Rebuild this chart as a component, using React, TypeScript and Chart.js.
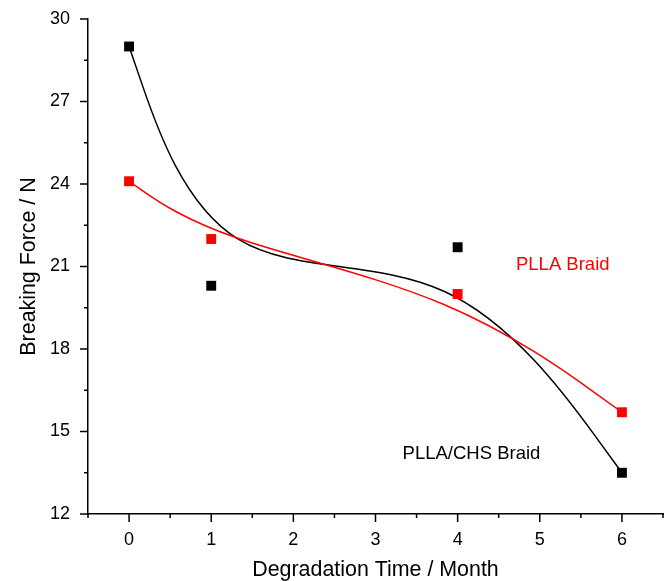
import React, { useEffect, useRef } from 'react';
import { Chart, registerables } from 'chart.js';

Chart.register(...registerables);

// ---- data ----
const months = [0, 1, 4, 6];
const pllaChsForce = [29.0, 20.3, 21.7, 13.5];
const pllaForce = [24.1, 22.0, 20.0, 15.7];
const seriesNames = ['PLLA/CHS Braid', 'PLLA Braid'];
const xTickValues = [0, 1, 2, 3, 4, 5, 6];
const yTickValues = [12, 15, 18, 21, 24, 27, 30];

// ---- styles / layout ----
const FONT = "'Liberation Sans', Arial, Helvetica, sans-serif";
const seriesColors = ['#000000', '#ff0000'];
const labelAnchors = [
  { x: 3.33, y: 14.19 },
  { x: 4.71, y: 21.07 },
];

// Origin-style B-spline line: uniform cubic B-spline with end points repeated,
// drawn as Bezier segments through the chart's own scales.
const bsplinePlugin = {
  id: 'bspline',
  beforeDatasetsDraw(chart: any) {
    const { ctx, chartArea, scales } = chart;
    const xs = scales.x;
    const ys = scales.y;
    ctx.save();
    ctx.beginPath();
    ctx.rect(chartArea.left, chartArea.top, chartArea.width, chartArea.height);
    ctx.clip();
    chart.data.datasets.forEach((ds: any) => {
      const raw = ds.data.map((p: any) => [xs.getPixelForValue(p.x), ys.getPixelForValue(p.y)]);
      const n = raw.length;
      const cp = [raw[0], raw[0], ...raw, raw[n - 1], raw[n - 1]];
      ctx.beginPath();
      for (let i = 0; i + 3 < cp.length; i++) {
        const [a, b, c, d] = [cp[i], cp[i + 1], cp[i + 2], cp[i + 3]];
        const s0 = [(a[0] + 4 * b[0] + c[0]) / 6, (a[1] + 4 * b[1] + c[1]) / 6];
        const s1 = [(2 * b[0] + c[0]) / 3, (2 * b[1] + c[1]) / 3];
        const s2 = [(b[0] + 2 * c[0]) / 3, (b[1] + 2 * c[1]) / 3];
        const s3 = [(b[0] + 4 * c[0] + d[0]) / 6, (b[1] + 4 * c[1] + d[1]) / 6];
        if (i === 0) ctx.moveTo(s0[0], s0[1]);
        ctx.bezierCurveTo(s1[0], s1[1], s2[0], s2[1], s3[0], s3[1]);
      }
      ctx.strokeStyle = ds.backgroundColor;
      ctx.lineWidth = 1.5;
      ctx.stroke();
    });
    ctx.restore();
  },
};

const ticksPlugin = {
  id: 'axisTicks',
  afterDraw(chart: any) {
    const { ctx, chartArea, scales } = chart;
    const xs = scales.x;
    const ys = scales.y;
    ctx.save();
    ctx.strokeStyle = '#000';
    ctx.lineWidth = 1.5;
    ctx.beginPath();
    for (let v = xs.min; v <= xs.max + 1e-9; v += 0.5) {
      const px = xs.getPixelForValue(v);
      const major = Math.abs(v - Math.round(v)) < 1e-6;
      ctx.moveTo(px, chartArea.bottom);
      ctx.lineTo(px, chartArea.bottom + (major ? 8 : 4));
    }
    for (let v = ys.min; v <= ys.max + 1e-9; v += 1.5) {
      const py = ys.getPixelForValue(v);
      const major = Math.abs(v / 3 - Math.round(v / 3)) < 1e-6;
      ctx.moveTo(chartArea.left, py);
      ctx.lineTo(chartArea.left - (major ? 8 : 4), py);
    }
    ctx.stroke();
    ctx.restore();
  },
};

const labelPlugin = {
  id: 'seriesLabels',
  afterDatasetsDraw(chart: any) {
    const { ctx, scales } = chart;
    ctx.save();
    ctx.font = `18.5px ${FONT}`;
    ctx.textAlign = 'left';
    ctx.textBaseline = 'middle';
    seriesNames.forEach((name, i) => {
      ctx.fillStyle = seriesColors[i];
      ctx.fillText(name, scales.x.getPixelForValue(labelAnchors[i].x), scales.y.getPixelForValue(labelAnchors[i].y));
    });
    ctx.restore();
  },
};

export default function App() {
  const canvasRef = useRef<HTMLCanvasElement | null>(null);

  useEffect(() => {
    if (!canvasRef.current) return;
    const seriesValues = [pllaChsForce, pllaForce];
    const chart = new Chart(canvasRef.current, {
      type: 'scatter',
      data: {
        datasets: seriesValues.map((vals, i) => ({
          label: seriesNames[i],
          data: months.map((m, j) => ({ x: m, y: vals[j] })),
          backgroundColor: seriesColors[i],
          borderColor: seriesColors[i],
          borderWidth: 0,
          pointStyle: 'rect',
          pointRadius: 7,
          pointHoverRadius: 7,
          showLine: false,
        })),
      },
      options: {
        animation: false,
        responsive: true,
        maintainAspectRatio: false,
        layout: { autoPadding: false, padding: { top: 19, right: 1, left: 0, bottom: 0 } },
        plugins: { legend: { display: false }, tooltip: { enabled: false } },
        scales: {
          x: {
            type: 'linear',
            min: -0.5,
            max: 6.5,
            afterBuildTicks: (s: any) => {
              s.ticks = xTickValues.map((v) => ({ value: v }));
            },
            afterFit: (s: any) => {
              s.height = 67;
              s.paddingLeft = 0;
              s.paddingRight = 0;
            },
            grid: { display: false, drawTicks: true, tickLength: 8 },
            border: { display: true, color: '#000', width: 1.5 },
            ticks: {
              color: '#000',
              padding: 7,
              maxRotation: 0,
              font: { family: FONT, size: 18 },
            },
            title: {
              display: true,
              text: 'Degradation Time / Month',
              color: '#000',
              font: { family: FONT, size: 21.4, lineHeight: 1 },
              padding: { top: 0, bottom: 0 },
            },
          },
          y: {
            type: 'linear',
            min: 12,
            max: 30,
            afterBuildTicks: (s: any) => {
              s.ticks = yTickValues.map((v) => ({ value: v }));
            },
            afterFit: (s: any) => {
              s.width = 88;
              s.paddingTop = 0;
              s.paddingBottom = 0;
            },
            grid: { display: false, drawTicks: true, tickLength: 8 },
            border: { display: true, color: '#000', width: 1.5 },
            ticks: {
              color: '#000',
              padding: 10,
              font: { family: FONT, size: 18 },
            },
            title: {
              display: true,
              text: 'Breaking Force / N',
              color: '#000',
              font: { family: FONT, size: 21.4, lineHeight: 1 },
              padding: { top: 18.5, bottom: 0 },
            },
          },
        },
      },
      plugins: [bsplinePlugin, ticksPlugin, labelPlugin],
    } as any);
    return () => chart.destroy();
  }, []);

  return (
    <div style={{ position: 'absolute', left: 0, top: 0, width: 664, height: 581, background: '#fff' }}>
      <canvas ref={canvasRef} />
    </div>
  );
}
